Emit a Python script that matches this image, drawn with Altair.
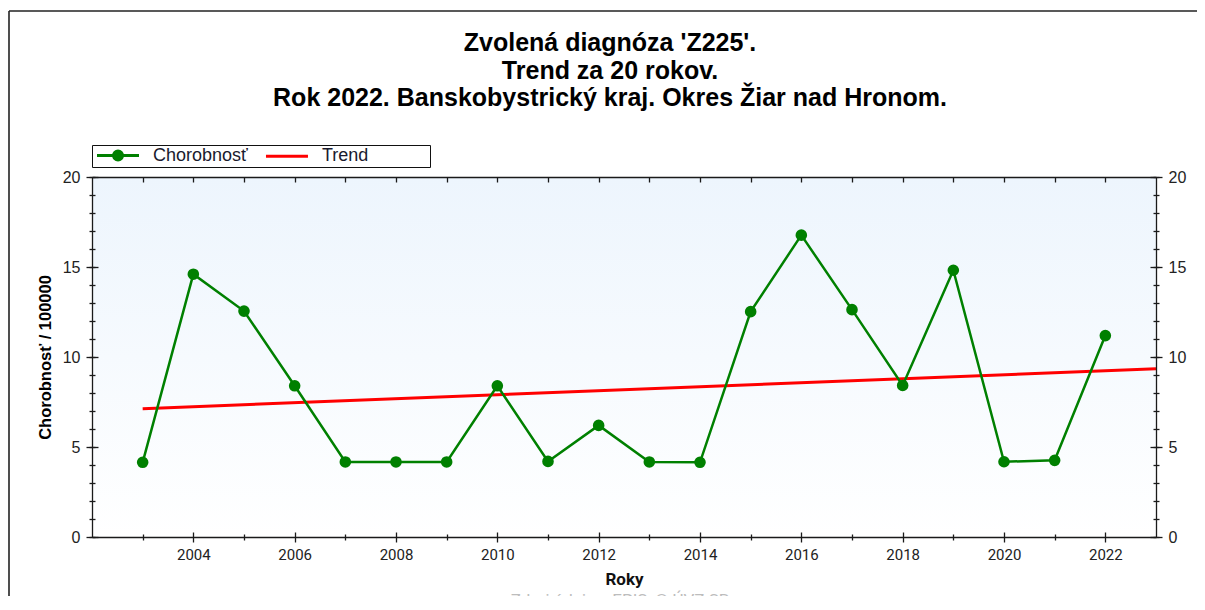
import altair as alt
import pandas as pd

# ---------------- data ----------------
years = list(range(2003, 2023))
values = [4.15, 14.6, 12.55, 8.4, 4.17, 4.17, 4.17, 8.4, 4.2, 6.2,
          4.17, 4.15, 12.52, 16.77, 12.63, 8.42, 14.82, 4.18, 4.26, 11.19]
trend_years = [2003, 2023]
trend_values = [7.13, 9.35]
series_names = ["Chorobnosť", "Trend"]
major_x = list(range(2004, 2023, 2))
minor_x = list(range(2003, 2022, 2))
top_x = list(range(2003, 2023))
major_y = [0, 5, 10, 15, 20]
minor_y = list(range(0, 21))
title_lines = ["Zvolená diagnóza 'Z225'.", "Trend za 20 rokov.",
               "Rok 2022. Banskobystrický kraj. Okres Žiar nad Hronom."]
footer = "Zdroj údajov: EPIS, © ÚVZ SR"

df = pd.DataFrame({"year": years, "value": values})
trend_df = pd.DataFrame({"year": trend_years, "value": trend_values})
legend_df = pd.DataFrame({"series": series_names, "year": [None, None], "value": [None, None]})

W, H = 1064, 360
xscale = alt.Scale(domain=[2002, 2023], nice=False, zero=False)
yscale = alt.Scale(domain=[0, 20], nice=False, zero=True)

AX = "#1a1a1a"


def ax(**kw):
    d = dict(zindex=1, grid=False, tickColor=AX, domainColor=AX, tickWidth=1.3,
             domainWidth=1.3, labelFlush=False, labelOverlap=False, title=None,
             labels=False, domain=False)
    d.update(kw)
    return alt.Axis(**d)


def axis_layer(xaxis, yaxis):
    return alt.Chart(trend_df).mark_point(opacity=0).encode(
        x=alt.X("year:Q", scale=xscale, axis=xaxis),
        y=alt.Y("value:Q", scale=yscale, axis=yaxis),
    )


# x axes
xa_major_out = ax(orient="bottom", values=major_x, tickSize=5, labels=True, domain=True,
                  format="d", labelFont="Roboto", labelFontSize=15, labelColor="#222",
                  labelPadding=5, title="Roky", titleFont="Roboto", titleFontSize=17,
                  titleFontWeight="bold", titleColor="#111", titlePadding=9)
xa_major_in = ax(orient="bottom", values=major_x, tickSize=5, offset=-5)
xa_minor_out = ax(orient="bottom", values=minor_x, tickSize=3)
xa_minor_in = ax(orient="bottom", values=minor_x, tickSize=3, offset=-3)
xa_top_in = ax(orient="top", values=top_x, tickSize=5, offset=-5)
xa_top_dom = ax(orient="top", values=top_x, ticks=False, domain=True)

# y axes
ya_left_out = ax(orient="left", values=major_y, tickSize=6, labels=True, domain=True,
                 labelFont="Liberation Sans", labelFontSize=16, labelColor="#222",
                 labelPadding=6, title="Chorobnosť / 100000", titleFont="Liberation Sans",
                 titleFontSize=16.5, titleFontWeight="bold", titleColor="#000",
                 titlePadding=9)
ya_left_in = ax(orient="left", values=major_y, tickSize=6, offset=-6)
ya_left_minor_out = ax(orient="left", values=minor_y, tickSize=3)
ya_left_minor_in = ax(orient="left", values=minor_y, tickSize=3, offset=-3)
ya_right_out = ax(orient="right", values=major_y, tickSize=6, labels=True, domain=True,
                  labelFont="Liberation Sans", labelFontSize=16, labelColor="#222",
                  labelPadding=6)
ya_right_in = ax(orient="right", values=major_y, tickSize=6, offset=-6)
ya_right_minor_out = ax(orient="right", values=minor_y, tickSize=3)
ya_right_minor_in = ax(orient="right", values=minor_y, tickSize=3, offset=-3)

one_row = alt.Data(values=[{"k": 1}])

background = alt.Chart(one_row).mark_rect(
    color=alt.LinearGradient(
        gradient="linear",
        stops=[alt.GradientStop(color="#edf5fd", offset=0),
               alt.GradientStop(color="#ffffff", offset=1)],
        x1=0, x2=0, y1=0, y2=1)
).encode(x=alt.value(0), x2=alt.value(W), y=alt.value(0), y2=alt.value(H))

trend = alt.Chart(trend_df).mark_line(color="#ff0000", strokeWidth=3).encode(
    x=alt.X("year:Q", scale=xscale, axis=None),
    y=alt.Y("value:Q", scale=yscale, axis=None))

line = alt.Chart(df).mark_line(color="#008000", strokeWidth=2.5).encode(
    x=alt.X("year:Q", scale=xscale, axis=None),
    y=alt.Y("value:Q", scale=yscale, axis=None))

points = alt.Chart(df).mark_circle(color="#008000", size=135, opacity=1).encode(
    x=alt.X("year:Q", scale=xscale, axis=None),
    y=alt.Y("value:Q", scale=yscale, axis=None))

# legend symbols: a long line (with a dot for the data series)


def circ(cx, r):
    return (f"M{cx - r:.3f},0A{r},{r},0,1,1,{cx + r:.3f},0"
            f"A{r},{r},0,1,1,{cx - r:.3f},0")


LX0, LX1, CX = -0.69, 4.56, 1.94
sym_line = f"M{LX0},0L{LX1},0"
sym_line_dot = sym_line + circ(CX, 0.56) + circ(CX, 0.3) + circ(CX, 0.06)

NBSP = "\u00a0"
ZWSP = "\u200b"
trend_label = "Trend" + NBSP * 12 + ZWSP

leg = alt.Legend(title=None, orient="none", legendX=0, legendY=-32, direction="horizontal",
                 symbolSize=256, symbolStrokeWidth=3, labelFont="Liberation Sans",
                 labelFontSize=18, labelColor="#1a1a2e", labelOffset=41, columnPadding=11,
                 padding=1, strokeColor="#111", labelLimit=500,
                 labelExpr=f"datum.label == 'Trend' ? '{trend_label}' : datum.label")

legend_layer = alt.Chart(legend_df).mark_point(filled=False, opacity=1, strokeWidth=3).encode(
    x=alt.X("year:Q", scale=xscale, axis=None),
    y=alt.Y("value:Q", scale=yscale, axis=None),
    color=alt.Color("series:N", scale=alt.Scale(domain=series_names, range=["#008000", "#ff0000"]),
                    legend=leg),
    shape=alt.Shape("series:N", scale=alt.Scale(domain=series_names, range=[sym_line_dot, sym_line]),
                    legend=leg),
)

frame_top = alt.Chart(one_row).mark_rule(color="#222", strokeWidth=1.6).encode(
    x=alt.value(-83), x2=alt.value(1140), y=alt.value(-166))
frame_left = alt.Chart(one_row).mark_rule(color="#222", strokeWidth=1.6).encode(
    x=alt.value(-83), y=alt.value(-166), y2=alt.value(440))

footer_layer = alt.Chart(alt.Data(values=[{"t": footer}])).mark_text(
    font="Roboto", fontSize=17, color="#bdbdbd", align="center", baseline="top"
).encode(x=alt.value(528), y=alt.value(416), text="t:N")

layers = [
    background, trend, line, points,
    axis_layer(xa_major_out, ya_left_out),
    axis_layer(xa_major_in, ya_left_in),
    axis_layer(xa_minor_out, ya_left_minor_out),
    axis_layer(xa_minor_in, ya_left_minor_in),
    axis_layer(xa_top_in, ya_right_out),
    axis_layer(xa_top_dom, ya_right_in),
    axis_layer(None, ya_right_minor_out),
    axis_layer(None, ya_right_minor_in),
    legend_layer, frame_top, frame_left, footer_layer,
]

chart = alt.layer(*layers).resolve_axis(x="independent", y="independent").properties(
    width=W, height=H,
    autosize=alt.AutoSizeParams(type="none"),
    padding={"left": 84, "top": 169, "right": 41, "bottom": 59},
    title=alt.TitleParams(text=title_lines, font="Liberation Sans", fontSize=25,
                          fontWeight="bold", color="#000", anchor="middle", frame="group",
                          baseline="top", offset=0, dy=101, dx=-14, lineHeight=27.5),
    background="#ffffff",
).configure_view(strokeWidth=0)

chart.save("out.html", embed_options={"renderer": "svg", "actions": False})
